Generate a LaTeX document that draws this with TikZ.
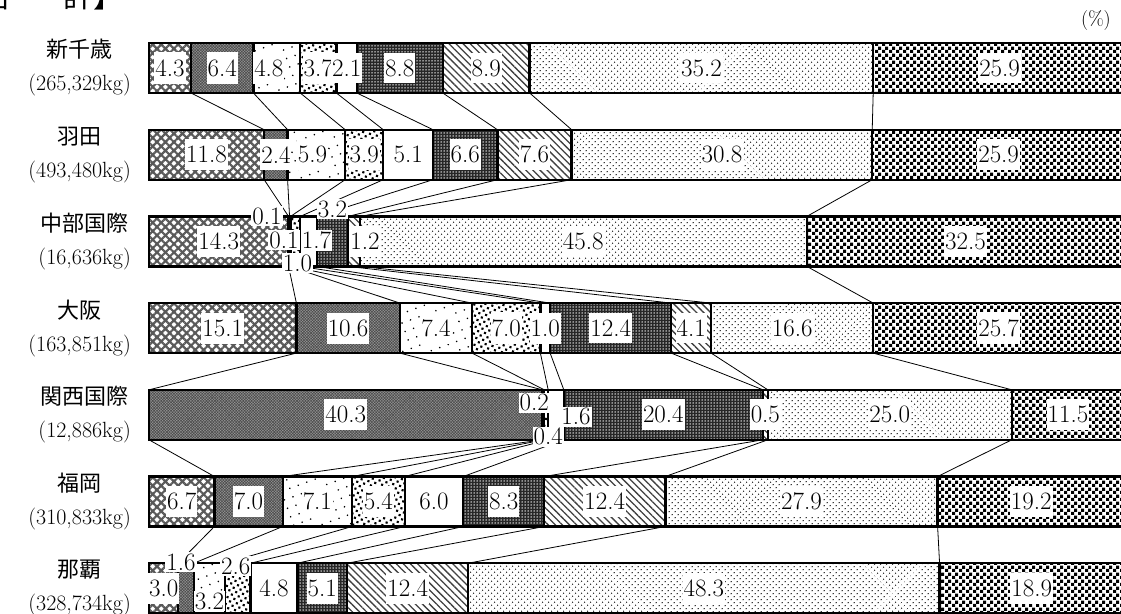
\documentclass[tikz,border=0pt]{standalone}
\usepackage{fontspec}
\newfontfamily\cjk{Noto Sans CJK JP}
\usetikzlibrary{patterns,patterns.meta,backgrounds}

\pgfdeclarepatternformonly{checks}{\pgfpointorigin}{\pgfqpoint{7pt}{7pt}}{\pgfqpoint{7pt}{7pt}}{%
  \pgfpathrectangle{\pgfpointorigin}{\pgfqpoint{3.6pt}{3.6pt}}%
  \pgfpathrectangle{\pgfqpoint{3.5pt}{3.5pt}}{\pgfqpoint{3.6pt}{3.6pt}}%
  \pgfusepath{fill}}

\tikzset{
  seg/.style={draw=black, line width=2.4pt},
  link/.style={line width=0.8pt},
  cat1/.style={pattern={Hatch[angle=45,distance=6pt,line width=2.2pt]}, pattern color=black!65},
  cat2/.style={preaction={fill=black!40}, pattern={Hatch[angle=45,distance=2pt,line width=0.6pt]}, pattern color=black!70},
  cat3/.style={pattern={Dots[distance=9pt,radius=0.9pt,angle=20]}, pattern color=black},
  cat4/.style={pattern={Dots[distance=5pt,radius=1.5pt,angle=30]}, pattern color=black},
  cat5/.style={fill=white},
  cat6/.style={preaction={fill=black!85}, pattern={Dots[distance=3pt,radius=0.75pt]}, pattern color=white},
  cat7/.style={pattern={Lines[angle=-45,distance=5pt,line width=1.3pt]}, pattern color=black!75},
  cat8/.style={pattern={Dots[distance=4pt,radius=0.8pt,angle=45]}, pattern color=black!85},
  cat9/.style={pattern=checks, pattern color=black},
  val/.style={fill=white, inner xsep=1pt, inner ysep=7pt, font=\fontsize{25}{25}\selectfont},
  tag/.style={val, inner ysep=1.5pt},
  rowlbl/.style={anchor=east, align=center, inner sep=0pt, font=\fontsize{22}{33}\selectfont}
}

\newcommand{\airrow}[2]{%
  \pgfmathsetmacro\rtop{42+86.7*(#1-1)}
  \xdef\cum{0}
  \foreach \v/\dx/\dy [count=\k] in {#2} {
    \pgfmathsetmacro\xa{149+9.76*\cum}
    \pgfmathsetmacro\xb{\xa+9.76*\v}
    \path[seg, cat\k] (\xa,\rtop+1) rectangle (\xb,\rtop+51);
    \coordinate (n#1-\k) at (\xb,\rtop+1);
    \coordinate (s#1-\k) at (\xb,\rtop+51);
    \pgfmathsetmacro\tmp{\cum+\v}\xdef\cum{\tmp}
  }
  \xdef\cum{0}
  \foreach \v/\dx/\dy [count=\k] in {#2} {
    \pgfmathsetmacro\xm{149+9.76*(\cum+\v/2)}
    \ifdim\v pt>0pt
      \ifdim\dy pt=0pt \def\vs{val}\else\def\vs{tag}\fi
      \node[\vs] (l#1-\k) at (\xm+\dx,\rtop+26+\dy) {\v};
    \fi
    \pgfmathsetmacro\tmp{\cum+\v}\xdef\cum{\tmp}
  }
}

\begin{document}
\begin{tikzpicture}[x=1pt,y=-1pt]
  \useasboundingbox (0,0) rectangle (1121,613);
  \node[anchor=base west, inner sep=0pt, font=\cjk\fontsize{30}{30}\selectfont] (ttl) at (-18,8) {合\hspace{1.7em}計】};
  \node[font=\fontsize{20}{20}\selectfont] (pct) at (1096,21) {(\%)};

  \node[rowlbl] (r1) at (131,68) {{\cjk 新千歳}\\(265,329kg)};
  \node[rowlbl] (r2) at (131,154.7) {{\cjk 羽田}\\(493,480kg)};
  \node[rowlbl] (r3) at (131,241.4) {{\cjk 中部国際}\\(16,636kg)};
  \node[rowlbl] (r4) at (131,328.1) {{\cjk 大阪}\\(163,851kg)};
  \node[rowlbl] (r5) at (131,414.8) {{\cjk 関西国際}\\(12,886kg)};
  \node[rowlbl] (r6) at (131,501.5) {{\cjk 福岡}\\(310,833kg)};
  \node[rowlbl] (r7) at (131,588.2) {{\cjk 那覇}\\(328,734kg)};

  \airrow{1}{4.3/0/0,6.4/0/0,4.8/-8/0,3.7/0/0,2.1/0/0,8.8/0/0,8.9/0/0,35.2/0/0,25.9/0/0}
  \airrow{2}{11.8/0/0,2.4/0/0,5.9/-4/0,3.9/0/0,5.1/0/0,6.6/0/0,7.6/0/0,30.8/0/0,25.9/0/0}
  \airrow{3}{14.3/0/0,0.1/-22/-25,0.1/-6/-1,1.0/2/22,1.7/8/-1,3.2/0/-32,1.2/11/0,45.8/0/0,32.5/0/0}
  \airrow{4}{15.1/0/0,10.6/0/0,7.4/0/0,7.0/0/0,1.0/0/0,12.4/0/0,4.1/0/0,16.6/0/0,25.7/0/0}
  \airrow{5}{0/0/0,40.3/0/0,0.2/-9/-12,0.4/2/22,1.6/20/2,20.4/0/0,0.5/0/0,25.0/0/0,11.5/0/0}
  \airrow{6}{6.7/0/0,7.0/0/0,7.1/0/0,5.4/0/0,6.0/0/0,8.3/0/0,12.4/0/0,27.9/0/0,19.2/0/0}
  \airrow{7}{3.0/0/0,1.6/-5/-26,3.2/0/13,2.6/-2/-22,4.8/0/0,5.1/0/0,12.4/0/0,48.3/0/0,18.9/0/0}

  \begin{scope}[on background layer]
    \foreach \r in {1,...,6} {
      \pgfmathtruncatemacro\q{\r+1}
      \foreach \k in {1,...,8}
        \draw[link] (s\r-\k) -- (n\q-\k);
    }
  \end{scope}
\end{tikzpicture}
\end{document}
